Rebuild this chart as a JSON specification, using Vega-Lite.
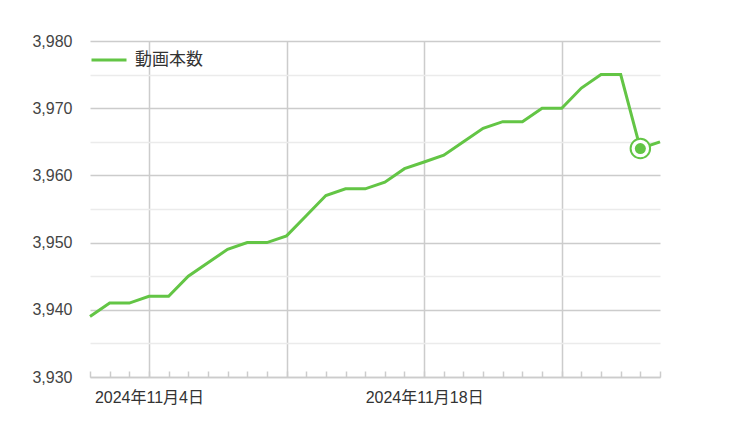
{
  "$schema": "https://vega.github.io/schema/vega-lite/v6.json",
  "width": 570,
  "height": 336,
  "autosize": "none",
  "padding": {"left": 90, "top": 41, "right": 90, "bottom": 64},
  "background": "white",
  "config": {"font": "Liberation Sans, Noto Sans CJK JP, sans-serif", "view": {"stroke": null}},
  "data": {"values": [
    {"date": "2024-11-01", "count": 3939, "series": "動画本数"},
    {"date": "2024-11-02", "count": 3941, "series": "動画本数"},
    {"date": "2024-11-03", "count": 3941, "series": "動画本数"},
    {"date": "2024-11-04", "count": 3942, "series": "動画本数"},
    {"date": "2024-11-05", "count": 3942, "series": "動画本数"},
    {"date": "2024-11-06", "count": 3945, "series": "動画本数"},
    {"date": "2024-11-07", "count": 3947, "series": "動画本数"},
    {"date": "2024-11-08", "count": 3949, "series": "動画本数"},
    {"date": "2024-11-09", "count": 3950, "series": "動画本数"},
    {"date": "2024-11-10", "count": 3950, "series": "動画本数"},
    {"date": "2024-11-11", "count": 3951, "series": "動画本数"},
    {"date": "2024-11-12", "count": 3954, "series": "動画本数"},
    {"date": "2024-11-13", "count": 3957, "series": "動画本数"},
    {"date": "2024-11-14", "count": 3958, "series": "動画本数"},
    {"date": "2024-11-15", "count": 3958, "series": "動画本数"},
    {"date": "2024-11-16", "count": 3959, "series": "動画本数"},
    {"date": "2024-11-17", "count": 3961, "series": "動画本数"},
    {"date": "2024-11-18", "count": 3962, "series": "動画本数"},
    {"date": "2024-11-19", "count": 3963, "series": "動画本数"},
    {"date": "2024-11-20", "count": 3965, "series": "動画本数"},
    {"date": "2024-11-21", "count": 3967, "series": "動画本数"},
    {"date": "2024-11-22", "count": 3968, "series": "動画本数"},
    {"date": "2024-11-23", "count": 3968, "series": "動画本数"},
    {"date": "2024-11-24", "count": 3970, "series": "動画本数"},
    {"date": "2024-11-25", "count": 3970, "series": "動画本数"},
    {"date": "2024-11-26", "count": 3973, "series": "動画本数"},
    {"date": "2024-11-27", "count": 3975, "series": "動画本数"},
    {"date": "2024-11-28", "count": 3975, "series": "動画本数"},
    {"date": "2024-11-29", "count": 3964, "series": "動画本数"},
    {"date": "2024-11-30", "count": 3965, "series": "動画本数"}
  ]},
  "encoding": {
    "x": {
      "field": "date", "type": "temporal", "timeUnit": "utcyearmonthdate",
      "scale": {"domain": [{"year": 2024, "month": 11, "date": 1, "utc": true}, {"year": 2024, "month": 11, "date": 30, "utc": true}], "nice": false, "padding": 0},
      "axis": {
        "title": null,
        "tickCount": {"interval": "day", "step": 1},
        "grid": true,
        "gridColor": "#cccccc",
        "gridWidth": 1.5,
        "gridOpacity": {"condition": {"test": "utcday(datum.value) == 1", "value": 1}, "value": 0},
        "domainColor": "#cccccc",
        "domainWidth": 1.5,
        "tickColor": "#cccccc",
        "tickWidth": 1.5,
        "tickSize": -6,
        "labelExpr": "(utcdate(datum.value) == 4 || utcdate(datum.value) == 18) ? utcFormat(datum.value, '%Y年%-m月%-d日') : ''",
        "labelFontSize": 16,
        "labelColor": "#333333",
        "labelPadding": 18,
        "labelOverlap": false,
        "labelFlush": false
      }
    },
    "y": {
      "field": "count", "type": "quantitative",
      "scale": {"domain": [3930, 3980], "nice": false, "zero": false},
      "axis": {
        "title": null,
        "values": [3930, 3935, 3940, 3945, 3950, 3955, 3960, 3965, 3970, 3975, 3980],
        "domain": false,
        "ticks": false,
        "gridColor": {"condition": {"test": "datum.value % 10 == 0", "value": "#cccccc"}, "value": "#ebebeb"},
        "gridWidth": 1.5,
        "labelExpr": "datum.value % 10 == 0 ? format(datum.value, ',') : ''",
        "labelFontSize": 16,
        "labelColor": "#444444",
        "labelPadding": 18
      }
    }
  },
  "layer": [
    {
      "mark": {"type": "line", "strokeWidth": 3},
      "encoding": {
        "color": {
          "field": "series", "type": "nominal",
          "scale": {"range": ["#63c545"]},
          "legend": {
            "title": null, "orient": "none", "legendX": 0, "legendY": 0,
            "symbolType": "stroke", "symbolSize": 1225, "symbolStrokeWidth": 3,
            "labelFontSize": 17, "labelColor": "#333333", "labelOffset": 7, "padding": 0
          }
        }
      }
    },
    {
      "transform": [{"filter": "datum.count == 3964"}],
      "mark": {"type": "point", "shape": "circle", "size": 380, "filled": true, "fill": "white", "stroke": "#63c545", "strokeWidth": 2, "opacity": 1}
    },
    {
      "transform": [{"filter": "datum.count == 3964"}],
      "mark": {"type": "point", "shape": "circle", "size": 121, "filled": true, "color": "#63c545", "opacity": 1}
    }
  ]
}
